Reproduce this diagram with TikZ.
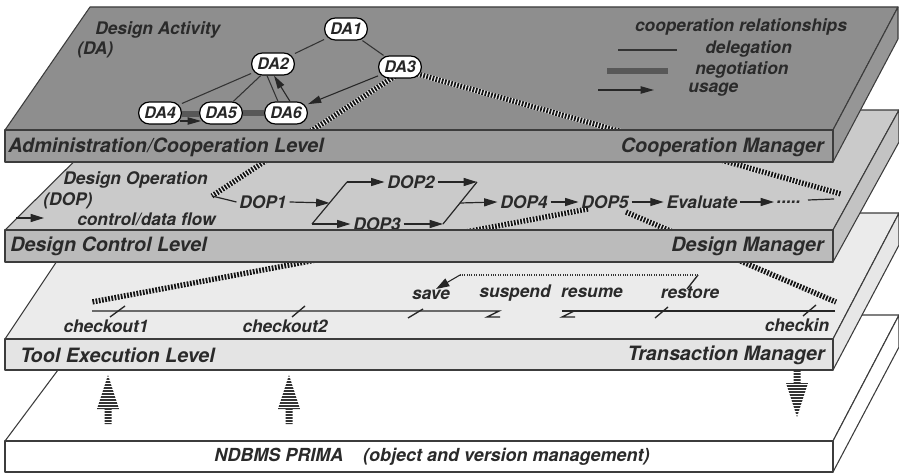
\documentclass[tikz,border=0pt]{standalone}
\usepackage{fontspec}
\setmainfont{TeX Gyre Heros}
\usetikzlibrary{arrows.meta,calc}
\definecolor{ink}{HTML}{2A2A2A}
\definecolor{edgecol}{HTML}{3C3C3C}
\definecolor{aTop}{HTML}{8E8E8E}
\definecolor{aFront}{HTML}{9C9C9C}
\definecolor{aSide}{HTML}{969696}
\definecolor{bTop}{HTML}{CACACA}
\definecolor{bFront}{HTML}{BBBBBB}
\definecolor{bSide}{HTML}{C3C3C3}
\definecolor{cTop}{HTML}{EBEBEB}
\definecolor{cFront}{HTML}{E4E4E4}
\definecolor{cSide}{HTML}{E7E7E7}
\definecolor{negcol}{HTML}{585858}
\tikzset{
  slab/.style={draw=edgecol, line width=0.8pt, line join=round},
  lbl/.style={font=\fontsize{14.8}{17}\selectfont\bfseries\itshape, text=ink, inner sep=0pt},
  txt/.style={font=\fontsize{13}{15}\selectfont\bfseries\itshape, text=ink, inner sep=0pt},
  dop/.style={font=\fontsize{13}{15}\selectfont\bfseries\itshape, text=ink, inner sep=2pt},
  danode/.style={draw=black, line width=0.9pt, fill=white, rounded corners=8pt,
     minimum width=32pt, minimum height=16.5pt, inner sep=1pt,
     font=\fontsize{12}{14}\selectfont\bfseries\itshape, text=black!85},
  deleg/.style={draw=black!80, line width=0.8pt},
  negot/.style={draw=negcol, line width=3.8pt},
  usearrow/.style={draw=black!85, line width=0.8pt, -{Triangle[length=10pt,width=5.5pt]}},
  flowarrow/.style={draw=black!85, line width=0.9pt, -{Triangle[length=10pt,width=6pt]}},
  flowline/.style={draw=black!85, line width=0.9pt},
  hatchline/.style={draw=black!92, line width=4pt, dash pattern=on 1.3pt off 1.1pt,
     preaction={draw=white!92!black, solid, line width=4pt}},
  tickmark/.style={draw=black!85, line width=1pt},
  stripe/.style={draw=black!80, line width=1.5pt},
}
\newcommand\upstripe[1]{%
  \begin{scope}
    \clip (#1-3.5,424) -- (#1-3.5,409) -- (#1-11,409) -- (#1,375) -- (#1+11,409) -- (#1+3.5,409) -- (#1+3.5,424) -- cycle;
    \foreach \yy in {375.5,378.5,...,425} {\draw[stripe] (#1-12,\yy) -- (#1+12,\yy);}
  \end{scope}}
\newcommand\downstripe[1]{%
  \begin{scope}
    \clip (#1-3.5,370) -- (#1-3.5,383) -- (#1-11,383) -- (#1,417) -- (#1+11,383) -- (#1+3.5,383) -- (#1+3.5,370) -- cycle;
    \foreach \yy in {371,374,...,418} {\draw[stripe] (#1-12,\yy) -- (#1+12,\yy);}
  \end{scope}}
\begin{document}
\begin{tikzpicture}[x=0.75pt,y=-0.75pt]
\useasboundingbox (0,0) rectangle (899,474);
\fill[white] (0,0) rectangle (899,474);

% ---------- slab tops and sides (bottom to top)
\filldraw[slab, fill=white] (5,441) -- (833,441) -- (899,315) -- (99,315) -- cycle;
\filldraw[slab, fill=white] (833,441) -- (899,315) -- (899,347) -- (833,472) -- cycle;
\filldraw[slab, fill=cTop] (5,339) -- (833,339) -- (899,213) -- (89,213) -- cycle;
\filldraw[slab, fill=cSide] (833,339) -- (899,213) -- (899,245) -- (833,370) -- cycle;
\filldraw[slab, fill=bTop] (5,230) -- (833,230) -- (899,110) -- (126,110) -- cycle;
\filldraw[slab, fill=bSide] (833,230) -- (899,110) -- (899,142) -- (833,262) -- cycle;
\filldraw[slab, fill=aTop] (5,130) -- (833,130) -- (898,7) -- (90,7) -- cycle;
\filldraw[slab, fill=aSide] (833,130) -- (898,7) -- (898,39) -- (833,162) -- cycle;

% ---------- hatched cooperation (refinement) lines
\coordinate (hA0) at (395,76);  \coordinate (hA1) at (212,196);
\coordinate (hB0) at (414,73);  \coordinate (hB1) at (841,194);
\coordinate (hC0) at (588,209); \coordinate (hC1) at (92,302);
\coordinate (hD0) at (626,212); \coordinate (hD1) at (836,302);
\draw[hatchline] (hA0) -- (hA1);
\draw[hatchline] (hB0) -- (hB1);
\draw[hatchline] (hC0) -- (hC1);
\draw[hatchline] (hD0) -- (hD1);

% ---------- Administration / Cooperation level content
\node[txt, anchor=west] (tDA) at (95,30) {Design Activity};
\node[txt, anchor=west] (tDAb) at (77,50) {(DA)};
\node[danode] (DA1) at (346,29) {DA1};
\node[danode] (DA2) at (273,64) {DA2};
\node[danode] (DA3) at (400,67) {DA3};
\node[danode] (DA4) at (160,113) {DA4};
\node[danode] (DA5) at (221,113) {DA5};
\node[danode] (DA6) at (286,113) {DA6};
\draw[deleg] (DA1) -- (DA2);
\draw[deleg] (DA1) -- (DA3);
\draw[deleg] (DA2) -- (DA4);
\draw[deleg] (DA2) -- (DA5);
\draw[deleg] ($(DA2.south)+(-6,0)$) -- ($(DA6.north)+(-8,0)$);
\draw[usearrow] ($(DA6.north)+(4,0)$) -- ($(DA2.south)+(1,0)$);
\draw[usearrow] (DA3) -- (DA6);
\draw[negot] ($(DA4.east)+(0,1)$) -- ($(DA5.west)+(0,1)$);
\draw[usearrow] ($(DA4.east)+(-2,8)$) -- ($(DA5.west)+(2,8)$);
\draw[negot] (DA5) -- (DA6);

\node[txt] (tCoop) at (741,27) {cooperation relationships};
\node[txt, anchor=west] (tDel) at (705,49) {delegation};
\node[txt, anchor=west] (tNeg) at (695,70) {negotiation};
\node[txt, anchor=west] (tUse) at (688,90) {usage};
\coordinate (lgD0) at (618,50); \coordinate (lgD1) at (677,50);
\coordinate (lgN0) at (607,71); \coordinate (lgN1) at (668,71);
\coordinate (lgU0) at (598,90); \coordinate (lgU1) at (654,90);
\draw[deleg] (lgD0) -- (lgD1);
\draw[negot] (lgN0) -- (lgN1);
\draw[usearrow] (lgU0) -- (lgU1);

% ---------- Design control level content
\node[txt, anchor=west] (tDO) at (63,180) {Design Operation};
\node[txt, anchor=west] (tDOb) at (43,201) {(DOP)};
\coordinate (lgF0) at (16,218); \coordinate (lgF1) at (44,218);
\draw[flowarrow] (lgF0) -- (lgF1);
\node[txt, anchor=west] (tFlow) at (77,219) {control/data flow};

\node[dop] (DOP1) at (263,202) {DOP1};
\node[dop] (DOP2) at (411,182) {DOP2};
\node[dop] (DOP3) at (377,224) {DOP3};
\node[dop] (DOP4) at (524,202) {DOP4};
\node[dop] (DOP5) at (605,202) {DOP5};
\node[dop] (EVAL) at (702,202) {Evaluate};
\node[dop] (DOTS) at (789,202) {.....};
\coordinate (fL) at (312,224);  \coordinate (fTL) at (347,182);
\coordinate (fTR) at (477,182); \coordinate (fBR) at (443,224);
\coordinate (fLm) at (329.5,203); \coordinate (fRm) at (460,203);
\coordinate (dEnd) at (834,199);
\draw[flowline] (hA1) -- (DOP1.west);
\draw[flowarrow] (DOP1.east) -- (fLm);
\draw[flowline] (fL) -- (fTL);
\draw[flowarrow] (fTL) -- (DOP2.west);
\draw[flowarrow] (DOP2.east) -- (fTR);
\draw[flowline] (fTR) -- (fBR);
\draw[flowarrow] (fL) -- (DOP3.west);
\draw[flowarrow] (DOP3.east) -- (fBR);
\draw[flowarrow] (fRm) -- (DOP4.west);
\draw[flowarrow] (DOP4) -- (DOP5);
\draw[flowarrow] (DOP5) -- (EVAL);
\draw[flowarrow] (EVAL) -- (DOTS);
\draw[flowline] ($(DOTS.east)+(4,-2)$) -- (dEnd);

% ---------- Tool execution level content
\coordinate (tlS) at (92,311); \coordinate (tlE) at (835,311);
\draw[tickmark] (tlS) -- (499,311) -- (487,317) -- (500,317);
\draw[tickmark] (tlE) -- (562,311);
\draw[tickmark] (574,311) -- (562,317) -- (575,317);
\draw[tickmark] (110,317) -- (125,306);
\draw[tickmark] (292,317) -- (305,306);
\draw[tickmark] (408,318) -- (423,309);
\draw[tickmark] (655,318) -- (668,307);
\draw[tickmark] (803,316) -- (816,305);
\coordinate (rsA) at (687,289); \coordinate (rsB) at (698,275);
\coordinate (rsC) at (460,275); \coordinate (rsD) at (436,289);
\draw[tickmark] (rsA) -- (rsB);
\draw[draw=black!80, line width=0.8pt, dash pattern=on 0.8pt off 1pt] (rsB) -- (rsC);
\draw[draw=black!85, line width=0.8pt, -{Triangle[length=10pt,width=6.5pt]}] (rsC) -- (rsD);
\node[txt] (tSave) at (431,295) {save};
\node[txt] (tSusp) at (515,293) {suspend};
\node[txt] (tRes) at (592,293) {resume};
\node[txt] (tRest) at (690,293) {restore};
\node[txt] (tCo1) at (106,326) {checkout1};
\node[txt] (tCo2) at (285,326) {checkout2};
\node[txt] (tCin) at (797,325) {checkin};

% ---------- front faces with labels
\filldraw[slab, fill=aFront] (5,130) rectangle (833,162);
\node[lbl, anchor=west] (lvA) at (8,147) {Administration/Cooperation Level};
\node[lbl, anchor=east] (mgA) at (824,147) {Cooperation Manager};
\filldraw[slab, fill=bFront] (5,230) rectangle (833,262);
\node[lbl, anchor=west] (lvB) at (10,246) {Design Control Level};
\node[lbl, anchor=east] (mgB) at (824,246) {Design Manager};
\filldraw[slab, fill=cFront] (5,339) rectangle (833,370);
\node[lbl, anchor=west] (lvC) at (20,355) {Tool Execution Level};
\node[lbl, anchor=east] (mgC) at (825,355) {Transaction Manager};
\filldraw[slab, fill=white] (5,441) rectangle (833,472);
\node[font=\fontsize{13.5}{16}\selectfont\bfseries\itshape, text=ink, inner sep=0pt] (ndb) at (432,457)
   {NDBMS PRIMA\hspace{1.1em}(object and version management)};

% ---------- striped data-exchange arrows
\upstripe{108}
\upstripe{289}
\downstripe{797}
\end{tikzpicture}
\end{document}
